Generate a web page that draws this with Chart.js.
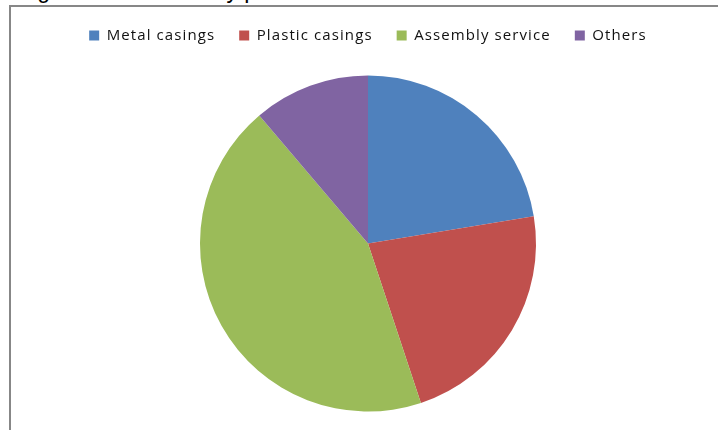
<!DOCTYPE html>
<html>
<head>
<meta charset="utf-8">
<script src="https://cdn.jsdelivr.net/npm/chart.js@4/dist/chart.umd.min.js"></script>
<style>
  html, body { margin: 0; padding: 0; background: #fff; }
  body { width: 718px; height: 430px; overflow: hidden; position: relative; }
  #frame { position: absolute; left: 9px; top: 5px; width: 720px; height: 440px;
           border-left: 2px solid #878787; border-top: 2px solid #878787; }
  #title { position: absolute; left: 18px; top: -21px; line-height: 23px; white-space: nowrap;
           font-family: "Liberation Sans", Arial, sans-serif; font-size: 23px; color: #000; }
  #wrap { position: absolute; left: 0; top: 0; width: 718px; height: 434px; }
</style>
</head>
<body>
<div id="title">Figure 4: Revenue by products and services</div>
<div id="frame"></div>
<div id="wrap"><canvas id="c" width="718" height="434"></canvas></div>
<script>
const categories = ["Metal casings", "Plastic casings", "Assembly service", "Others"];
const shares = [22.4, 22.5, 43.9, 11.2];
const colors = ["#4F81BD", "#C0504D", "#9BBB59", "#8064A2"];

const spacingPlugin = {
  id: 'letterSpacing',
  beforeLayout(chart) { chart.ctx.letterSpacing = '1.1px'; },
  beforeDraw(chart) { chart.ctx.letterSpacing = '1.1px'; }
};

new Chart(document.getElementById('c'), {
  type: 'pie',
  data: {
    labels: categories,
    datasets: [{
      data: shares,
      backgroundColor: colors,
      borderWidth: 0,
      radius: 168
    }]
  },
  options: {
    responsive: false,
    animation: false,
    layout: { padding: { left: 18, top: 4, right: 0, bottom: 0 } },
    plugins: {
      tooltip: { enabled: false },
      legend: {
        position: 'top',
        align: 'center',
        labels: {
          boxWidth: 10,
          boxHeight: 10,
          padding: 24,
          color: '#111',
          font: { family: "'Open Sans', 'Noto Sans', sans-serif", size: 15 }
        }
      }
    }
  },
  plugins: [spacingPlugin]
});
</script>
</body>
</html>
